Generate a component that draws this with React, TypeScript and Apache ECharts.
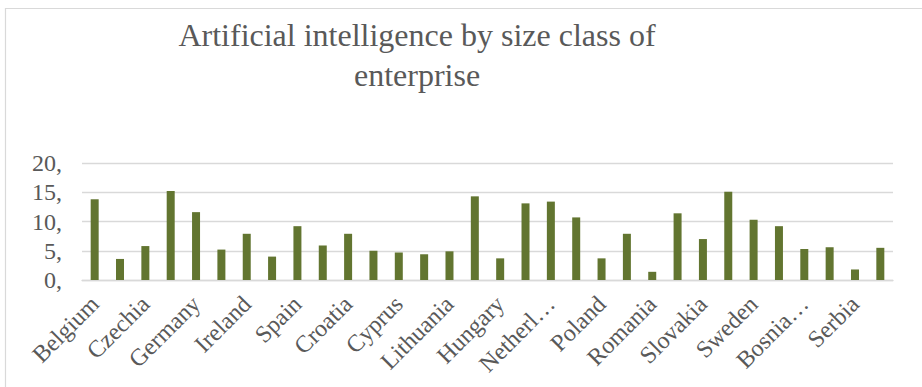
import React, { useEffect, useRef } from "react";
import * as echarts from "echarts";

const TITLE = "Artificial intelligence by size class of\nenterprise";

const countries = [
  "Belgium", "Bulgaria", "Czechia", "Denmark", "Germany", "Estonia", "Ireland", "Greece",
  "Spain", "France", "Croatia", "Italy", "Cyprus", "Latvia", "Lithuania", "Luxembourg",
  "Hungary", "Malta", "Netherlands", "Austria", "Poland", "Portugal", "Romania", "Slovenia",
  "Slovakia", "Finland", "Sweden", "Norway", "Bosnia and Herzegovina", "Montenegro", "Serbia", "Türkiye",
];

const values = [
  13.8, 3.6, 5.8, 15.2, 11.6, 5.2, 7.9, 4.0,
  9.2, 5.9, 7.9, 5.0, 4.7, 4.4, 4.9, 14.3,
  3.7, 13.1, 13.4, 10.7, 3.7, 7.9, 1.4, 11.4,
  7.0, 15.1, 10.3, 9.2, 5.3, 5.6, 1.8, 5.5,
];

const yTicks = [0, 5, 10, 15, 20];

const FONT = "Liberation Serif";
const TEXT = "#595959";

export default function App() {
  const ref = useRef<HTMLDivElement>(null);
  useEffect(() => {
    if (!ref.current) return;
    const chart = echarts.init(ref.current, null, { renderer: "svg" });
    chart.setOption({
      animation: false,
      backgroundColor: "#ffffff",
      title: {
        text: TITLE,
        left: 412,
        top: 10,
        textAlign: "center",
        textStyle: {
          fontFamily: FONT,
          fontSize: 32,
          fontWeight: "normal",
          color: TEXT,
          lineHeight: 40,
        },
      },
      graphic: [
        { type: "line", shape: { x1: 5.5, y1: 8, x2: 5.5, y2: 387 }, style: { stroke: "#d9d9d9", lineWidth: 1.2 } },
        { type: "line", shape: { x1: 5, y1: 8.5, x2: 922, y2: 8.5 }, style: { stroke: "#d9d9d9", lineWidth: 1.2 } },
      ],
      grid: { left: 82, right: 29, top: 163, bottom: 107, containLabel: false },
      xAxis: {
        type: "category",
        data: countries,
        axisLine: { show: true, lineStyle: { color: "#d9d9d9", width: 1.3 } },
        axisTick: { show: false },
        axisLabel: {
          interval: 1,
          rotate: 45,
          margin: 20,
          fontFamily: FONT,
          fontSize: 24,
          color: TEXT,
          formatter: (name: string) => (name.length > 10 ? name.slice(0, 7).trim() + "…" : name),
        },
      },
      yAxis: {
        type: "value",
        min: yTicks[0],
        max: yTicks[yTicks.length - 1],
        interval: 5,
        axisLine: { show: false },
        axisTick: { show: false },
        splitLine: { lineStyle: { color: "#d9d9d9", width: 1.3 } },
        axisLabel: {
          margin: 20,
          fontFamily: FONT,
          fontSize: 24,
          color: TEXT,
          formatter: (v: number) => v + ",",
        },
      },
      series: [
        {
          type: "bar",
          data: values,
          barWidth: 8,
          itemStyle: { color: "#627530" },
        },
      ],
    });
    return () => chart.dispose();
  }, []);
  return (
    <div
      ref={ref}
      style={{ position: "fixed", left: 0, top: 0, width: 922, height: 387 }}
    />
  );
}
